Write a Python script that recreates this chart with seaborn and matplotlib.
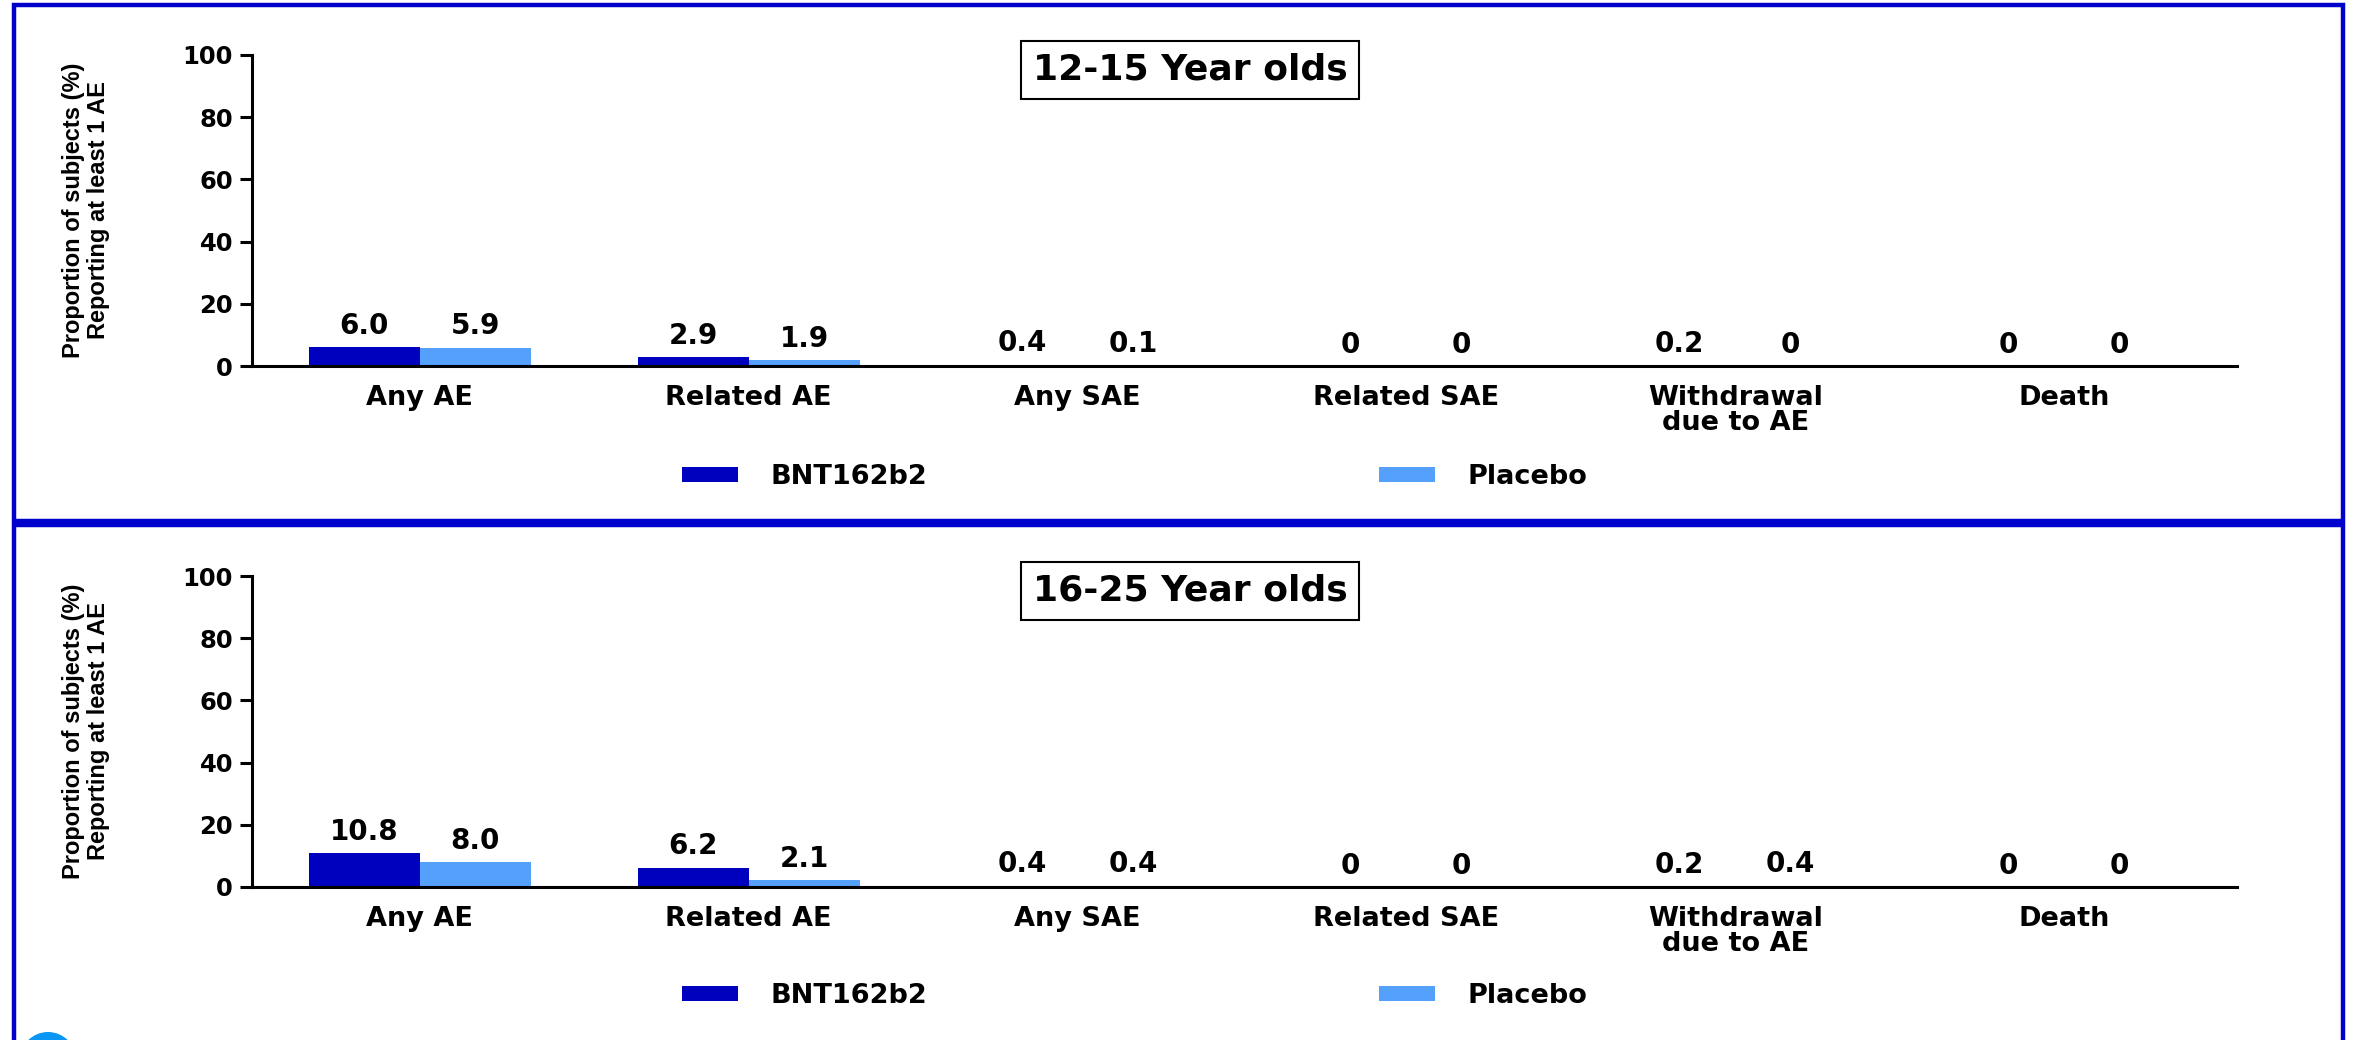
import matplotlib
matplotlib.use("Agg")
import matplotlib.pyplot as plt
from matplotlib.patches import Rectangle, Ellipse
import pandas as pd
import seaborn as sns

# ---- data -----------------------------------------------------------------
categories = ["Any AE", "Related AE", "Any SAE", "Related SAE",
              "Withdrawal\ndue to AE", "Death"]
groups = ["BNT162b2", "Placebo"]
panel_titles = ["12-15 Year olds", "16-25 Year olds"]

bnt_12_15 = [6.0, 2.9, 0.4, 0, 0.2, 0]
placebo_12_15 = [5.9, 1.9, 0.1, 0, 0, 0]
bnt_16_25 = [10.8, 6.2, 0.4, 0, 0.2, 0]
placebo_16_25 = [8.0, 2.1, 0.4, 0, 0.4, 0]

y_ticks = [0, 20, 40, 60, 80, 100]
y_label = "Proportion of subjects (%)\nReporting at least 1 AE"

# ---- style ----------------------------------------------------------------
DARK = "#0000BF"
LIGHT = "#55A0FA"
FRAME = "#0000CC"
W, H, DPI = 2354, 1040, 100

sns.set_theme(style="white")
plt.rcParams["font.family"] = ["DejaVu Sans"]
plt.rcParams["font.weight"] = "bold"
plt.rcParams["text.color"] = "black"

fig = plt.figure(figsize=(W / DPI, H / DPI), dpi=DPI)
fig.patch.set_facecolor("white")


def fx(px):
    return px / W


def fy(py):
    return 1 - py / H


# blue panel frames
for x0, y0, x1, y1 in [(14, 5, 2343, 521), (14, 525, 2343, 1062)]:
    fig.patches.append(Rectangle((fx(x0), fy(y1)), fx(x1) - fx(x0), fy(y0) - fy(y1),
                                 transform=fig.transFigure, fill=False,
                                 edgecolor=FRAME, linewidth=3.2, zorder=0))

# small logo arc peeking in at the lower left
fig.patches.append(Ellipse((fx(48), fy(1060)), 56 / W, 56 / H,
                           transform=fig.transFigure, facecolor="#0A96F5",
                           edgecolor="none", zorder=1))

# layout of each panel: axes top / bottom (px) and legend row (px)
layout = [(55, 366, 477), (576, 887, 996)]
series = [(bnt_12_15, placebo_12_15), (bnt_16_25, placebo_16_25)]
AX_LEFT, AX_RIGHT = 252, 2237

for title, (bnt, plc), (top, bottom, leg_y) in zip(panel_titles, series, layout):
    df = pd.DataFrame({
        "category": categories * 2,
        "group": [groups[0]] * len(categories) + [groups[1]] * len(categories),
        "pct": list(bnt) + list(plc),
    })
    ax = fig.add_axes([fx(AX_LEFT), fy(bottom), fx(AX_RIGHT) - fx(AX_LEFT),
                       (bottom - top) / H])
    sns.barplot(data=df, x="category", y="pct", hue="group",
                order=categories, hue_order=groups,
                palette={groups[0]: DARK, groups[1]: LIGHT},
                width=0.675, gap=0, saturation=1, errorbar=None,
                legend=False, linewidth=0, edgecolor="none", ax=ax)
    ax.set_xlim(-0.51, 5.526)
    ax.set_ylim(0, 100)
    ax.set_yticks(y_ticks)
    ax.set_xlabel("")
    ax.set_ylabel("")
    sns.despine(ax=ax)
    for side in ("left", "bottom"):
        ax.spines[side].set_linewidth(2.2)
        ax.spines[side].set_color("black")
    ax.tick_params(axis="y", left=True, length=8.6, width=2.2, pad=5,
                   labelsize=17.5, color="black", labelcolor="black")
    ax.tick_params(axis="x", bottom=False, length=0, pad=14,
                   labelsize=19.5, labelcolor="black")
    for lab in ax.get_xticklabels():
        lab.set_linespacing(0.95)
        lab.set_fontweight("bold")
    for lab in ax.get_yticklabels():
        lab.set_fontweight("bold")

    # value labels above each bar
    for cont in ax.containers:
        for bar in cont:
            v = bar.get_height()
            txt = "0" if v == 0 else f"{v:.1f}"
            ax.annotate(txt, (bar.get_x() + bar.get_width() / 2, v),
                        xytext=(0, 9.7), textcoords="offset points",
                        ha="center", va="baseline", fontsize=20,
                        fontweight="bold", color="black")

    # boxed panel title
    ax.text(0.4725, 0.9518, title, transform=ax.transAxes, ha="center",
            va="center", fontsize=26, fontweight="bold", color="black",
            bbox=dict(boxstyle="square,pad=0.32", facecolor="white",
                      edgecolor="black", linewidth=1.5))

    # y axis title
    fig.text(fx(86), fy((top + bottom) / 2), y_label, rotation=90,
             ha="center", va="center", fontsize=17, fontweight="bold",
             family=["Liberation Sans", "DejaVu Sans"],
             linespacing=1.1, color="black")

    # legend row
    handles = [cont.patches[0] for cont in ax.containers]
    fig.legend(handles, groups, loc="center left",
               bbox_to_anchor=(fx(682), fy(leg_y)), ncol=2, frameon=False,
               prop={"weight": "bold", "size": 19.5}, labelcolor="black",
               handlelength=2.07, handleheight=0.44, handletextpad=1.18,
               columnspacing=16.7, borderpad=0, borderaxespad=0)

fig.savefig("out.png", dpi=DPI, facecolor="white")
